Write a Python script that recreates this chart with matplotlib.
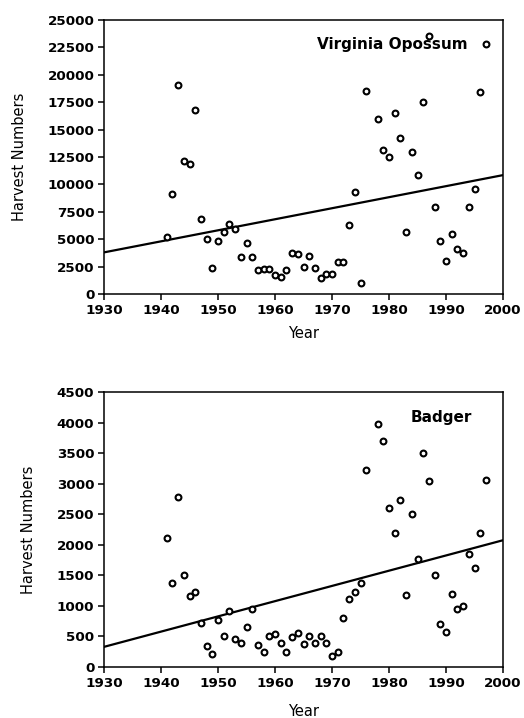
import numpy as np
import matplotlib
matplotlib.use("Agg")
import matplotlib.pyplot as plt

# harvest data
opossum_years = [1941, 1942, 1943, 1944, 1945, 1946, 1947, 1948, 1949, 1950,
                 1951, 1952, 1953, 1954, 1955, 1956, 1957, 1958, 1959, 1960,
                 1961, 1962, 1963, 1964, 1965, 1966, 1967, 1968, 1969, 1970,
                 1971, 1972, 1973, 1974, 1975, 1976, 1978, 1979, 1980, 1981,
                 1982, 1983, 1984, 1985, 1986, 1987, 1988, 1989, 1990, 1991,
                 1992, 1993, 1994, 1995, 1996, 1997]
opossum_counts = [5200, 9150, 19100, 12100, 11850, 16800, 6850, 5050, 2400, 4850,
                  5650, 6350, 5900, 3350, 4650, 3350, 2200, 2250, 2250, 1750,
                  1550, 2150, 3700, 3650, 2450, 3450, 2400, 1450, 1800, 1800,
                  2900, 2950, 6300, 9300, 1050, 18550, 16000, 13150, 12500, 16550,
                  14250, 5700, 12950, 10850, 17550, 23550, 7950, 4850, 3000, 5450,
                  4100, 3700, 7900, 9600, 18450, 22800]
opossum_trend = [3800, 10850]   # fitted line at 1930 and 2000

badger_years = [1941, 1942, 1943, 1944, 1945, 1946, 1947, 1948, 1949, 1950,
                1951, 1952, 1953, 1954, 1955, 1956, 1957, 1958, 1959, 1960,
                1961, 1962, 1963, 1964, 1965, 1966, 1967, 1968, 1969, 1970,
                1971, 1972, 1973, 1974, 1975, 1976, 1978, 1979, 1980, 1981,
                1982, 1983, 1984, 1985, 1986, 1987, 1988, 1989, 1990, 1991,
                1992, 1993, 1994, 1995, 1996, 1997]
badger_counts = [2110, 1380, 2780, 1510, 1160, 1235, 725, 350, 220, 765,
                 515, 920, 460, 385, 650, 955, 355, 240, 500, 545,
                 385, 250, 495, 555, 375, 515, 400, 515, 395, 175,
                 250, 800, 1115, 1235, 1380, 3220, 3970, 3700, 2595, 2200,
                 2725, 1185, 2510, 1760, 3500, 3050, 1500, 700, 580, 1200,
                 955, 1000, 1850, 1615, 2200, 3065]
badger_trend = [330, 2075]

trend_years = [1930, 2000]
x_ticks = [1930, 1940, 1950, 1960, 1970, 1980, 1990, 2000]

fig = plt.figure(figsize=(5.24, 7.18), dpi=100)
ax1 = fig.add_axes([0.1985, 0.5905, 0.7615, 0.3816])
ax2 = fig.add_axes([0.1985, 0.071, 0.7615, 0.383])

panels = [
    (ax1, opossum_years, opossum_counts, opossum_trend, 25000, 2500, "Virginia Opossum", 0.912, 7),
    (ax2, badger_years, badger_counts, badger_trend, 4500, 500, "Badger", 0.922, 10),
]

for ax, yrs, cnt, trend, ymax, ystep, name, tx, xpad in panels:
    ax.plot(trend_years, trend, color="black", lw=1.6, zorder=2)
    ax.plot(yrs, cnt, linestyle="none", marker="o", markersize=4.2,
            markerfacecolor="white", markeredgecolor="black", markeredgewidth=1.5, zorder=3)
    ax.set_xlim(1930, 2000)
    ax.set_ylim(0, ymax)
    ax.set_xticks(x_ticks)
    ax.set_yticks(np.arange(0, ymax + 1, ystep))
    ax.tick_params(direction="out", length=4, width=1.1, pad=3, labelsize=9.7)
    for lab in ax.get_xticklabels() + ax.get_yticklabels():
        lab.set_fontweight("bold")
    for sp in ax.spines.values():
        sp.set_linewidth(1.1)
    ax.set_xlabel("Year", fontsize=10.5, labelpad=xpad)
    ax.set_ylabel("Harvest Numbers", fontsize=10.5, labelpad=15)
    ax.text(tx, 0.909, name, transform=ax.transAxes, ha="right", va="center",
            fontsize=11, fontweight="bold")

fig.savefig("out.png", dpi=100)
